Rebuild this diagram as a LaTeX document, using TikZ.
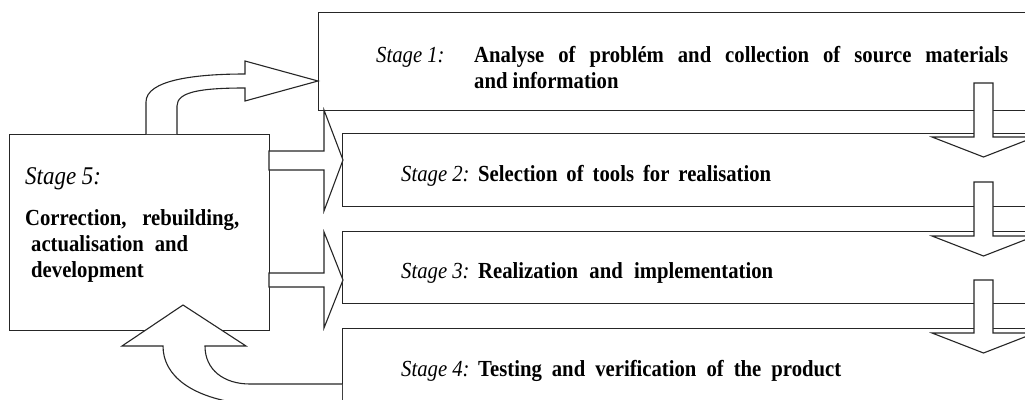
\documentclass[tikz,border=0pt]{standalone}
\usepackage{fontspec}
\setmainfont{Liberation Serif}[FakeStretch=0.9]
\begin{document}
\begin{tikzpicture}[x=1pt,y=-1pt,
  line cap=butt, line join=miter,
  stagebox/.style={draw=black!85, line width=1.2pt, fill=white, inner sep=0pt, anchor=north west},
  blockarrow/.style={draw=black!85, line width=1.1pt, fill=white},
  txt/.style={inner sep=0pt, anchor=base west, font=\fontsize{23}{28}\selectfont},
  stg/.style={txt, font=\fontsize{23}{28}\selectfont\itshape},
  dsc/.style={txt, font=\fontsize{23}{28}\selectfont\bfseries}]
\useasboundingbox (0,0) rectangle (1025,399);

% stage boxes
\node[stagebox, minimum width=730pt, minimum height=98pt] (s1) at (318,12) {};
\node[stagebox, minimum width=710pt, minimum height=73pt] (s2) at (342,133) {};
\node[stagebox, minimum width=710pt, minimum height=72pt] (s3) at (342,231) {};
\node[stagebox, minimum width=710pt, minimum height=100pt] (s4) at (342,328) {};
\node[stagebox, minimum width=260pt, minimum height=196pt] (s5) at (9,134) {};

% texts
\node[stg] (t1a) at (376,62) {Stage 1:};
\node[dsc] (t1b) at (474,62) {\makebox[534pt][s]{Analyse of problém and collection of source materials}};
\node[dsc] (t1c) at (474,88) {and information};

\node[stg] (t2a) at (401,181) {Stage 2:};
\node[dsc] (t2b) at (478,181) {\makebox[293pt][s]{Selection of tools for realisation}};

\node[stg] (t3a) at (401,278) {Stage 3:};
\node[dsc] (t3b) at (478,278) {\makebox[295pt][s]{Realization and implementation}};

\node[stg] (t4a) at (401,376) {Stage 4:};
\node[dsc] (t4b) at (478,376) {\makebox[363pt][s]{Testing and verification of the product}};

\node[stg, font=\fontsize{25.5}{30}\selectfont\itshape] (t5a) at (25,184) {Stage 5:};
\node[dsc] (t5b) at (25,225) {\makebox[214pt][s]{Correction, rebuilding,}};
\node[dsc] (t5c) at (31,251) {\makebox[157pt][s]{actualisation and}};
\node[dsc] (t5d) at (31,277) {development};

% block arrows from stage 5 to stages 2 and 3
\draw[blockarrow] (269,151) -- (324,151) -- (324,110) -- (343,160) -- (324,211) -- (324,170) -- (269,170) -- cycle;
\draw[blockarrow] (269,273) -- (324,273) -- (324,232) -- (343,280) -- (324,328) -- (324,287) -- (269,287) -- cycle;

% curved arrow from stage 5 to stage 1
\draw[blockarrow] (146,134) -- (146,102) .. controls (146,80) and (195,74) .. (245,74)
  -- (245,61) -- (318,81) -- (245,101) -- (245,88)
  .. controls (200,88) and (177,92) .. (177,106) -- (177,134);

% curved arrow from stage 4 back to stage 5
\draw[blockarrow] (342,384) -- (250,384) .. controls (224,384) and (205,370) .. (205,346)
  -- (246,346) -- (183,305) -- (122,346) -- (163,346)
  .. controls (163,376) and (192,398) .. (245,404) -- (342,404);

% downward arrows between stages
\draw[blockarrow] (974,83) -- (993,83) -- (993,137) -- (1035,137) -- (983.5,157) -- (932,137) -- (974,137) -- cycle;
\draw[blockarrow] (974,182) -- (993,182) -- (993,236) -- (1035,236) -- (983.5,256) -- (932,236) -- (974,236) -- cycle;
\draw[blockarrow] (974,280) -- (993,280) -- (993,333) -- (1035,333) -- (983.5,353) -- (932,333) -- (974,333) -- cycle;
\end{tikzpicture}
\end{document}
